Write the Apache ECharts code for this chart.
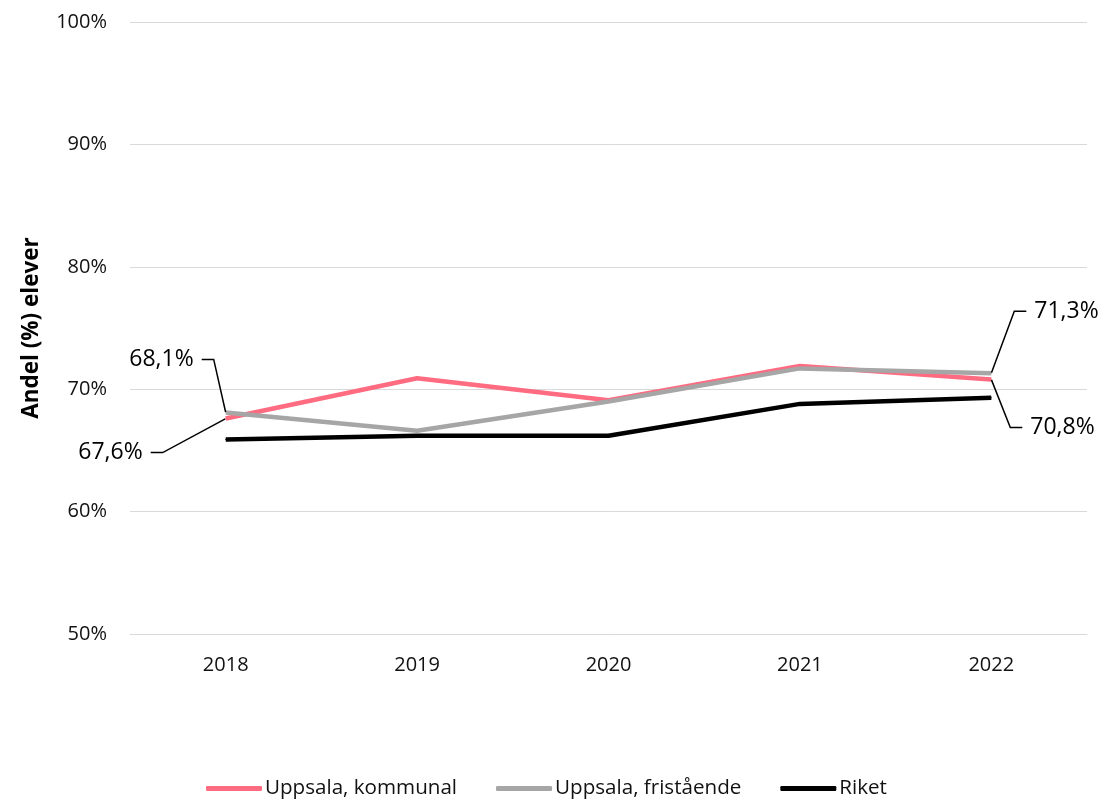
<!DOCTYPE html>
<html>
<head>
<meta charset="utf-8">
<script src="https://cdn.jsdelivr.net/npm/echarts@6/dist/echarts.min.js"></script>
<style>
  html, body { margin: 0; padding: 0; background: #fff; }
  #chart { width: 1107px; height: 799px; }
</style>
</head>
<body>
<div id="chart"></div>
<script>
const years = ['2018', '2019', '2020', '2021', '2022'];
const kommunal = [67.6, 70.9, 69.1, 71.9, 70.8];
const fristaende = [68.1, 66.6, 69.0, 71.7, 71.3];
const riket = [65.9, 66.2, 66.2, 68.8, 69.3];
const seriesNames = ['Uppsala, kommunal', 'Uppsala, fristående', 'Riket'];
const seriesColors = ['#FF6B81', '#A6A6A6', '#000000'];
// which points carry a value label (first and last year of the Uppsala lines)
const labelled = [[0, 4], [0, 4], []];

const fmt = v => v.toFixed(1).replace('.', ',') + '%';

// label offsets relative to the point: [dx, dy, align]
const labelOffsets = {
  '0-0': [-75, 34, 'right'],
  '1-0': [-24, -53, 'right'],
  '1-4': [35, -62, 'left'],
  '0-4': [31, 48, 'left']
};

const toData = (values, idx) => values.map((v, i) => ({
  value: v,
  label: { show: labelled[idx].includes(i) }
}));

const chart = echarts.init(document.getElementById('chart'));
chart.setOption({
  animation: false,
  textStyle: { fontFamily: 'Open Sans' },
  grid: { left: 130, right: 20, top: 22, bottom: 165 },
  legend: {
    data: seriesNames,
    top: 773,
    left: 201,
    icon: 'roundRect',
    itemWidth: 56,
    itemHeight: 5,
    itemGap: 39,
    textStyle: { fontSize: 20.6, color: '#111', fontFamily: 'Open Sans', padding: [0, 0, 0, -2] }
  },
  xAxis: {
    type: 'category',
    data: years,
    boundaryGap: true,
    axisLine: { lineStyle: { color: '#d9d9d9', width: 1 } },
    axisTick: { show: false },
    axisLabel: { fontSize: 20, color: '#111', margin: 21 }
  },
  yAxis: {
    type: 'value',
    min: 50,
    max: 100,
    interval: 10,
    name: 'Andel (%) elever',
    nameLocation: 'middle',
    nameGap: 87,
    nameTextStyle: { fontSize: 22.5, fontWeight: 'bold', color: '#000' },
    axisLine: { show: false },
    axisTick: { show: false },
    axisLabel: { fontSize: 20, color: '#111', margin: 23, formatter: '{value}%' },
    splitLine: { lineStyle: { color: '#d9d9d9', width: 1 } }
  },
  series: [kommunal, fristaende, riket].map((values, idx) => ({
    name: seriesNames[idx],
    type: 'line',
    data: toData(values, idx),
    symbol: 'circle',
    symbolSize: 1,
    showSymbol: true,
    color: seriesColors[idx],
    lineStyle: { width: 4.5, color: seriesColors[idx] },
    itemStyle: { color: seriesColors[idx] },
    label: {
      show: false,
      fontSize: 23,
      color: '#000',
      padding: [0, 8],
      backgroundColor: 'rgba(255,255,255,0)',
      formatter: p => fmt(p.value)
    },
    labelLine: {
      show: true,
      length2: 12,
      minTurnAngle: 10,
      lineStyle: { color: '#000', width: 1.5 }
    },
    labelLayout: params => {
      const o = labelOffsets[params.seriesIndex + '-' + params.dataIndex];
      if (!o) return {};
      const cx = params.rect.x + params.rect.width / 2;
      const cy = params.rect.y + params.rect.height / 2;
      return { x: cx + o[0], y: cy + o[1], align: o[2], verticalAlign: 'middle' };
    }
  }))
});
</script>
</body>
</html>
